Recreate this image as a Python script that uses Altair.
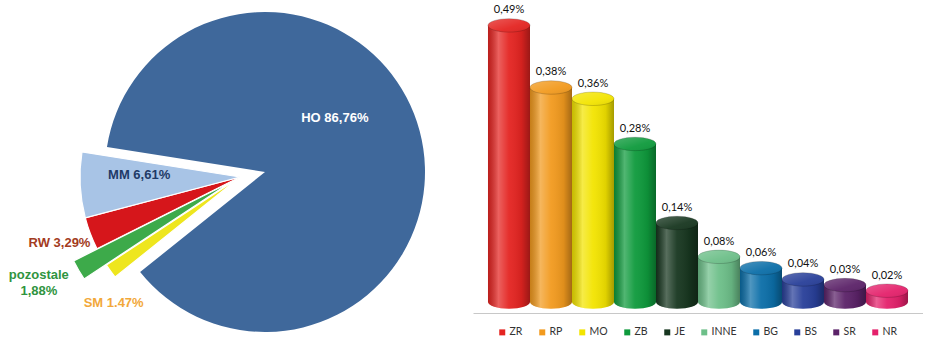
import math
import altair as alt
import pandas as pd

# ---------------- data ----------------
pie_cats = ["HO", "SM", "pozostale", "RW", "MM"]
pie_vals = [86.76, 1.47, 1.88, 3.29, 6.61]
pie_labels = ["HO 86,76%", "SM 1.47%", "pozostale\n1,88%", "RW 3,29%", "MM 6,61%"]
pie_colors = ["#3F689B", "#EEE61E", "#3DAA4A", "#D6161B", "#A8C4E6"]

bar_cats = ["ZR", "RP", "MO", "ZB", "JE", "INNE", "BG", "BS", "SR", "NR"]
bar_vals = [0.49, 0.38, 0.36, 0.28, 0.14, 0.08, 0.06, 0.04, 0.03, 0.02]
bar_labels = ["0,49%", "0,38%", "0,36%", "0,28%", "0,14%", "0,08%", "0,06%", "0,04%", "0,03%", "0,02%"]
bar_colors = ["#E42421", "#F29A1E", "#F3E400", "#0E9A3C", "#17361F",
              "#6DBF89", "#0B6EA8", "#283F99", "#5B2268", "#E4216B"]

# ---------------- pie ----------------
pie_df = pd.DataFrame({"pcat": pie_cats, "value": pie_vals,
                       "label": pie_labels, "ord": list(range(len(pie_cats)))})

start = math.radians(279)
theta_scale = alt.Scale(domain=[0, 1], range=[start, start + 2 * math.pi])
pie_color = alt.Color("pcat:N", scale=alt.Scale(domain=pie_cats, range=pie_colors), legend=None)

base = (
    alt.Chart(pie_df)
    .transform_window(cum="sum(value)", sort=[alt.SortField("ord")], frame=[None, 0])
    .transform_joinaggregate(total="sum(value)")
    .transform_calculate(
        t1="(datum.cum - datum.value) / datum.total",
        t2="datum.cum / datum.total",
        tm="(datum.cum - datum.value / 2) / datum.total",
    )
)


def arc_layer(cats, cx, cy, r, stroke=None):
    kw = dict(radius=r)
    if stroke:
        kw.update(stroke=stroke, strokeWidth=1.2)
    return (
        base.transform_filter(alt.FieldOneOfPredicate(field="pcat", oneOf=cats))
        .mark_arc(**kw)
        .encode(
            theta=alt.Theta("t1:Q", scale=theta_scale),
            theta2="t2:Q",
            color=pie_color,
            x=alt.value(cx),
            y=alt.value(cy),
        )
    )


def text_layer(cat, cx, cy, r, dx, dy, color):
    return (
        base.transform_filter(alt.datum.pcat == cat)
        .mark_text(radius=r, dx=dx, dy=dy, font="Liberation Sans", fontWeight="bold",
                   fontSize=13, color=color, lineBreak="\n", lineHeight=16)
        .encode(
            theta=alt.Theta("tm:Q", scale=theta_scale),
            text="label:N",
            x=alt.value(cx),
            y=alt.value(cy),
        )
    )


pie = alt.layer(
    arc_layer(["HO"], 265, 172, 160),
    arc_layer(["MM", "RW", "SM"], 240, 177, 160, stroke="white"),
    arc_layer(["pozostale"], 231, 182, 176, stroke="white"),
    text_layer("HO", 265, 172, 95, -22, -30, "#FFFFFF"),
    text_layer("MM", 240, 177, 101, 0, -7, "#1F3A66"),
    text_layer("RW", 240, 177, 193, 0, -2, "#A33B22"),
    text_layer("pozostale", 240, 177, 215, -15, -10, "#2F9440"),
    text_layer("SM", 240, 177, 181, 20, 19, "#F2A83A"),
).properties(width=470, height=338)

# ---------------- cylinder bars ----------------
bar_df = pd.DataFrame({"cat": bar_cats, "value": bar_vals, "label": bar_labels})

ell = "M-1,0A1,0.32,0,1,1,1,0A1,0.32,0,1,1,-1,0Z"
band = 42

xenc = alt.X("cat:N", sort=bar_cats,
             scale=alt.Scale(paddingInner=0, paddingOuter=0.357),
             axis=alt.Axis(labels=False, ticks=False, title=None,
                           domainColor="#C8C8C8", domainWidth=1, offset=11))
yscale = alt.Scale(domain=[0, 0.535])
ycol = alt.Y("value:Q", scale=yscale, axis=None)
yzero = alt.Y("zero:Q", scale=yscale, axis=None)
cscale = alt.Scale(domain=bar_cats, range=bar_colors)
legend = alt.Legend(orient="none", legendX=24, legendY=327,
                    direction="horizontal", columns=10, title=None,
                    symbolType="square", symbolSize=36,
                    symbolStrokeWidth=0, labelFont="Lato",
                    labelFontSize=10.5, labelColor="#333333",
                    columnPadding=14, labelOffset=2)
cenc = alt.Color("cat:N", scale=cscale, legend=legend)

shade = alt.LinearGradient(
    gradient="linear", x1=0, x2=1, y1=0, y2=0,
    stops=[
        alt.GradientStop(color="rgba(0,0,0,0.18)", offset=0),
        alt.GradientStop(color="rgba(255,255,255,0.28)", offset=0.25),
        alt.GradientStop(color="rgba(255,255,255,0.05)", offset=0.5),
        alt.GradientStop(color="rgba(0,0,0,0.08)", offset=0.8),
        alt.GradientStop(color="rgba(0,0,0,0.32)", offset=1),
    ],
)
capshade = alt.LinearGradient(
    gradient="linear", x1=0, x2=1, y1=0, y2=1,
    stops=[
        alt.GradientStop(color="rgba(255,255,255,0.25)", offset=0),
        alt.GradientStop(color="rgba(255,255,255,0.05)", offset=0.6),
        alt.GradientStop(color="rgba(0,0,0,0.1)", offset=1),
    ],
)

bb = alt.Chart(bar_df).transform_calculate(zero="0")

body = bb.mark_bar(opacity=1).encode(x=xenc, y=ycol, y2="zero:Q", color=cenc)
bottom_cap = bb.mark_point(shape=ell, filled=True, size=band * band, opacity=1).encode(
    x=xenc, y=yzero, color=cenc)
bottom_shade = bb.mark_point(shape=ell, filled=True, size=band * band, opacity=1,
                             color=shade).encode(x=xenc, y=yzero)
body2 = bb.mark_bar(opacity=1).encode(x=xenc, y=ycol, y2="zero:Q", color=cenc)
body_shade = bb.mark_bar(color=shade).encode(x=xenc, y=ycol, y2="zero:Q")
top_cap = bb.mark_point(shape=ell, filled=True, size=band * band, opacity=1,
                        stroke="rgba(0,0,0,0.18)", strokeWidth=1).encode(
    x=xenc, y=ycol, color=cenc)
top_shade = bb.mark_point(shape=ell, filled=True, size=band * band, opacity=1,
                          color=capshade).encode(x=xenc, y=ycol)
labels = bb.mark_text(dy=-15, font="Lato", fontSize=11,
                      color="#111111").encode(x=xenc, y=ycol, text="label:N")

bars = alt.layer(body, bottom_cap, bottom_shade, body2, body_shade, top_cap, top_shade, labels
                 ).properties(width=450, height=302)

chart = (
    alt.hconcat(pie, bars, spacing=3)
    .resolve_scale(color="independent")
    .properties(padding=0)
    .configure_view(stroke=None)
)

chart.save("out.html", embed_options={"renderer": "svg", "actions": False})
